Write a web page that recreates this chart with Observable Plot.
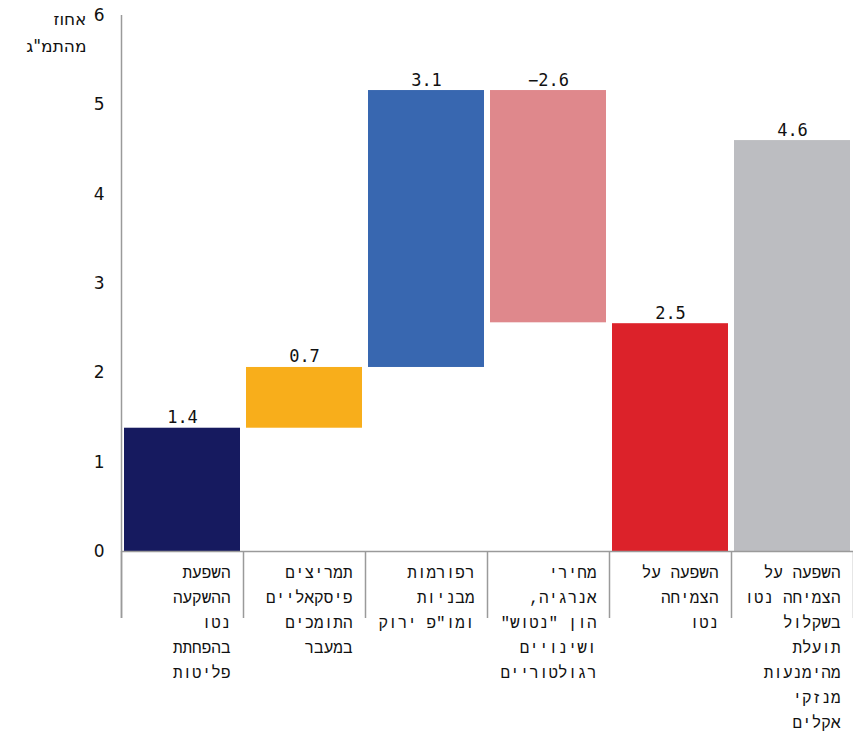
<!DOCTYPE html>
<html><head><meta charset="utf-8">
<script src="https://cdn.jsdelivr.net/npm/d3@7"></script>
<script src="https://cdn.jsdelivr.net/npm/@observablehq/plot@0.6"></script>
<style>body{margin:0;background:#fff} g.rtl-labels, g.rtl-labels text{direction:rtl;unicode-bidi:embed}</style>
</head><body><div id="chart"></div>
<script>
const categories = [
  "השפעת\nההשקעה\nנטו\nבהפחתת\nפליטות",
  "תמריצים\nפיסקאליים\nהתומכים\nבמעבר",
  "רפורמות\nמבניות\nומו\"פ ירוק",
  "מחירי\nאנרגיה,\nהון \"נטוש\"\nושינויים\nרגולטוריים",
  "השפעה על\nהצמיחה\nנטו",
  "השפעה על\nהצמיחה נטו\nבשקלול\nתועלת\nמהימנעות\nמנזקי\nאקלים"
];
const barStart = [0, 1.38, 2.06, 5.16, 0, 0];
const barEnd = [1.38, 2.06, 5.16, 2.56, 2.55, 4.6];
const valueLabels = [1.4, 0.7, 3.1, -2.6, 2.5, 4.6];
const barColors = ["#161a5f", "#f8ae1b", "#3867b0", "#df888c", "#dc222a", "#bcbdc1"];
const yTicks = [0, 1, 2, 3, 4, 5, 6];
const yTitle = ["אחוז", "מהתמ\"ג"];

const rows = categories.map((cat, i) => ({
  i, cat, start: barStart[i], end: barEnd[i], value: valueLabels[i], color: barColors[i]
}));
const boundaries = rows.map(d => d.i).concat([rows.length]);
const fmt = d3.format(".1f");
const axisGray = "#9a9a9a";

const chart = Plot.plot({
  width: 853,
  height: 735,
  marginLeft: 121,
  marginRight: 0,
  marginTop: 15,
  marginBottom: 184,
  x: {domain: [0, rows.length], axis: null},
  y: {domain: [0, 6], axis: null},
  style: {background: "#fff", color: "#111"},
  marks: [
    Plot.rect(rows, {x1: d => d.i, x2: d => d.i + 1, y1: "start", y2: "end", fill: "color", insetLeft: 3, insetRight: 3}),
    Plot.ruleX(boundaries, {y1: 0, y2: -0.75, stroke: axisGray, strokeWidth: 1.5}),
    Plot.ruleX([0], {y1: -0.75, y2: 6, stroke: axisGray, strokeWidth: 1.5}),
    Plot.ruleY([0], {x1: 0, x2: rows.length, stroke: axisGray, strokeWidth: 1.5}),
    Plot.axisY(yTicks, {tickSize: 0, tickPadding: 17, tickFormat: d3.format("d"), fontSize: 17, fontFamily: "DejaVu Sans", label: null}),
    Plot.text([yTitle.join("\n")], {frameAnchor: "top-left", dx: -35, dy: -9, textAnchor: "end", lineAnchor: "top", lineHeight: 1.55, fontSize: 17, fontFamily: "DejaVu Sans"}),
    Plot.text(rows, {x: d => d.i + 0.5, y: d => Math.max(d.start, d.end), text: d => fmt(d.value), dy: -5, lineAnchor: "bottom", fontSize: 17, fontFamily: "DejaVu Sans Mono"}),
    Plot.text(rows, {x: d => d.i + 0.5, text: "cat", frameAnchor: "bottom", dx: 48, dy: 9, lineAnchor: "top", textAnchor: "start", lineHeight: 1.56, fontSize: 16, fontFamily: "Liberation Mono"})
  ]
});
chart.querySelectorAll('g[text-anchor="start"]').forEach(g => {
  g.classList.add("rtl-labels");
  g.setAttribute("direction", "rtl");
  g.querySelectorAll("text, tspan").forEach(t => t.setAttribute("direction", "rtl"));
});
document.getElementById("chart").appendChild(chart);
</script>
</body></html>
